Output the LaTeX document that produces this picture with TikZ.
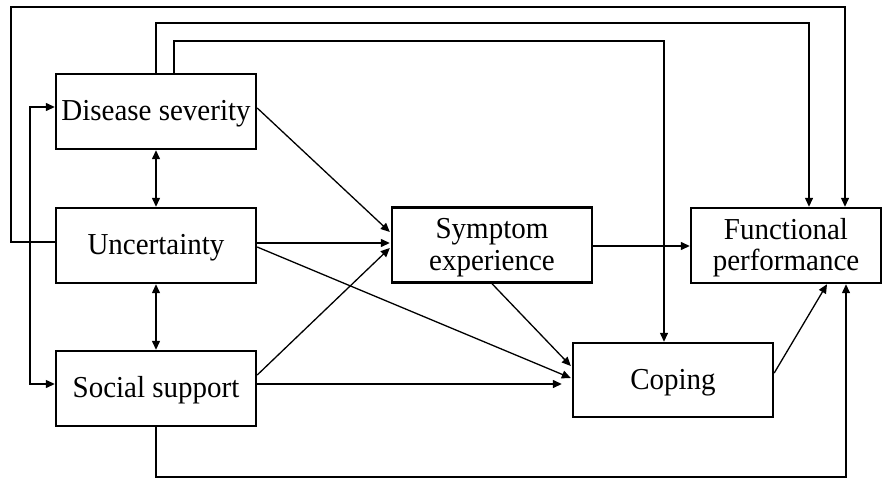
\documentclass[tikz,border=0pt]{standalone}
\usepackage{fontspec}
\usepackage{graphicx}
\setmainfont{Liberation Serif}
\usetikzlibrary{arrows.meta}
\newcommand{\boxtxt}[1]{\raisebox{-3pt}[\height][\depth]{\scalebox{1}[1.05]{\begin{tabular}{@{}c@{}}#1\end{tabular}}}}
\begin{document}
\begin{tikzpicture}[x=1pt,y=-1pt,
  box/.style={draw, line width=2.4pt, minimum width=200pt, minimum height=75pt,
    inner sep=0pt, align=center, font=\fontsize{29}{30}\selectfont},
  conn/.style={line width=1.3pt, -{Triangle[length=9pt,width=8pt]}},
  both/.style={line width=1.3pt, {Triangle[length=9pt,width=8pt]}-{Triangle[length=9pt,width=8pt]}}]
\useasboundingbox (0,0) rectangle (882,479);
\node[box] (dis) at (156,111.5) {\boxtxt{Disease severity}};
\node[box] (unc) at (156,245.5) {\boxtxt{Uncertainty}};
\node[box] (soc) at (156,388.5) {\boxtxt{Social support}};
\node[box] (sym) at (492,245) {\boxtxt{Symptom\\experience}};
\node[box, minimum width=190pt] (fun) at (786,245.5) {\boxtxt{Functional\\performance}};
\node[box, minimum height=74pt] (cop) at (673,380) {\boxtxt{Coping}};
% outer loops
\draw[conn] ([yshift=3.5pt]unc.west) -| (11,7) -| ([xshift=59pt]fun.north);
\draw[conn] (dis.north) |- (809,23) -- ([xshift=23pt]fun.north);
\draw[conn] ([xshift=18pt]dis.north) |- (664,41) -- ([xshift=-9pt]cop.north);
\draw[both] ([yshift=4.5pt]dis.west) -| (30,250) |- ([yshift=4.5pt]soc.west);
% bidirectional
\draw[both] (dis.south) -- (unc.north);
\draw[both] (unc.south) -- (soc.north);
% to symptom
\draw[conn] ([yshift=3.5pt]dis.east) -- ([xshift=-1pt,yshift=13pt]sym.west);
\draw[conn] ([yshift=2.5pt]unc.east) -- ([xshift=-1pt,yshift=2pt]sym.west);
\draw[conn] ([yshift=13.5pt]soc.east) -- ([xshift=-1pt,yshift=-3pt]sym.west);
% to coping
\draw[conn] ([yshift=-1.5pt]unc.east) -- ([xshift=-1pt,yshift=2pt]cop.west);
\draw[conn] (sym.south) -- ([xshift=-1pt,yshift=14pt]cop.west);
\draw[conn] ([yshift=4.5pt]soc.east) -- ([xshift=-10pt,yshift=-4pt]cop.west);
% to functional
\draw[conn] ([yshift=-1pt]sym.east) -- ([yshift=-0.5pt]fun.west);
\draw[conn] ([yshift=7pt]cop.east) -- ([xshift=41pt]fun.south);
\draw[conn] (soc.south) |- (846,477) -- ([xshift=60pt]fun.south);
\end{tikzpicture}
\end{document}
